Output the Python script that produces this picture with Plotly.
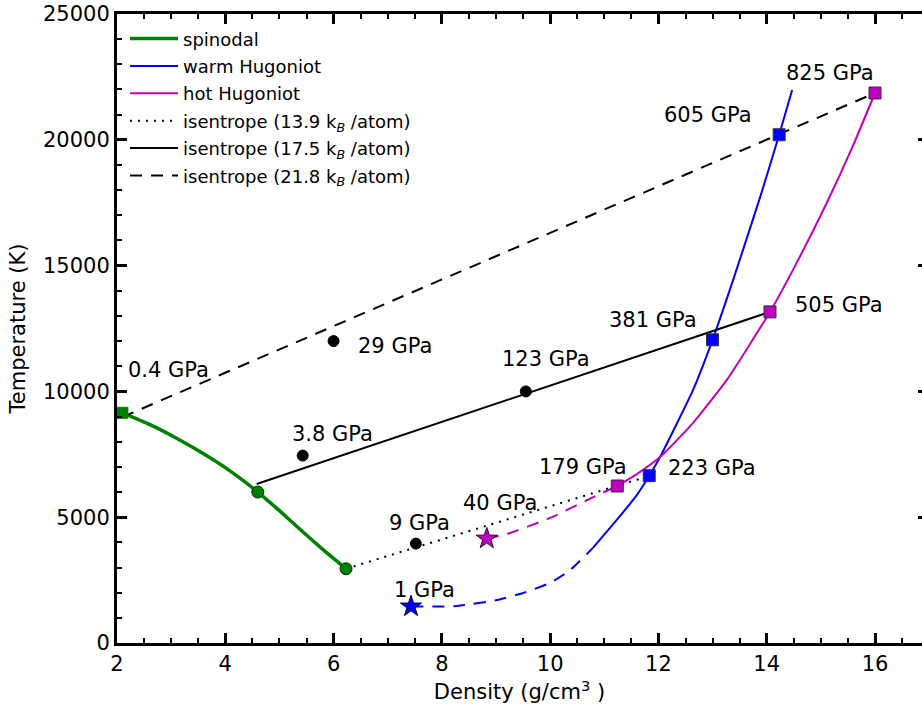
import plotly.graph_objects as go

# ---------------- data ----------------
spin_x = [2.1, 2.6, 3.1, 3.6, 4.1, 4.6, 5.0, 5.4, 5.8, 6.23]
spin_T = [9150, 8690, 8140, 7520, 6820, 6000, 5260, 4480, 3720, 2950]

warm_dash_x = [7.43, 8.28, 9.02, 9.50, 10.0, 10.37, 10.79]
warm_dash_T = [1450, 1470, 1710, 1990, 2390, 2900, 3780]
warm_x = [10.79, 11.23, 11.60, 11.83, 12.03, 12.64, 13.0, 13.38, 13.88, 14.23, 14.47]
warm_T = [3780, 4890, 5880, 6650, 7390, 10060, 12050, 14430, 17730, 20200, 21980]

hot_dash_x = [8.83, 9.2, 10.0, 10.74, 11.24]
hot_dash_T = [4150, 4330, 4970, 5740, 6240]
hot_x = [11.24, 11.6, 12.03, 12.64, 13.27, 14.06, 14.49, 15.11, 15.59, 16.0]
hot_T = [6240, 6710, 7390, 8750, 10480, 13160, 14850, 17500, 19750, 21860]

ise139_x = [6.23, 11.83]
ise139_T = [2950, 6640]
ise175_x = [4.58, 14.06]
ise175_T = [6320, 13160]
ise218_x = [2.1, 16.0]
ise218_T = [8980, 21860]

# markers
green_sq_x, green_sq_T = [2.1], [9150]
green_c_x, green_c_T = [4.6, 6.23], [6000, 2950]
black_x = [6.0, 5.43, 9.55, 7.52]
black_T = [12000, 7450, 10000, 3950]
blue_sq_x = [11.83, 13.0, 14.23]
blue_sq_T = [6650, 12050, 20200]
mag_sq_x = [11.24, 14.06, 16.0]
mag_sq_T = [6240, 13160, 21860]
blue_star_x, blue_star_T = [7.43], [1450]
mag_star_x, mag_star_T = [8.83], [4150]

# pressure labels: (text, x, T, xshift px, yshift px)
labels = [
    ("0.4 GPa", 2.1, 9150, 4, 43),
    ("29 GPa", 6.0, 12000, 22, -5),
    ("3.8 GPa", 5.43, 7450, -13, 22),
    ("123 GPa", 9.55, 10000, -26, 32),
    ("381 GPa", 13.0, 12050, -106, 20),
    ("505 GPa", 14.06, 13160, 23, 7),
    ("605 GPa", 14.23, 20200, -117, 20),
    ("825 GPa", 16.0, 21860, -91, 20),
    ("179 GPa", 11.24, 6240, -80, 19),
    ("223 GPa", 11.83, 6650, 17, 8),
    ("40 GPa", 8.83, 4150, -26, 36),
    ("9 GPa", 7.52, 3950, -29, 21),
    ("1 GPa", 7.43, 1450, -19, 17),
]

GREEN = "#008000"
BLUE = "#0000ff"
MAG = "#bf00bf"
FONT = "DejaVu Sans"
DASH = "12px,9px"
DOT = "2px,6px"

fig = go.Figure()

def line(x, y, color, width, dash="solid", name=None, legend=False, group=None):
    fig.add_trace(go.Scatter(
        x=x, y=y, mode="lines", name=name, showlegend=legend,
        legendgroup=group,
        line=dict(color=color, width=width, dash=dash, shape="spline", smoothing=0.5),
        hoverinfo="skip"))

line(spin_x, spin_T, GREEN, 3.5, name="spinodal", legend=True, group="a")
line(warm_x, warm_T, BLUE, 2, name="warm Hugoniot", legend=True, group="b")
line(warm_dash_x, warm_dash_T, BLUE, 2, dash=DASH)
line(hot_x, hot_T, MAG, 2, name="hot Hugoniot", legend=True, group="c")
line(hot_dash_x, hot_dash_T, MAG, 2, dash=DASH)
line(ise139_x, ise139_T, "black", 2, dash=DOT,
     name="isentrope (13.9 k<sub><i>B</i></sub> /atom)", legend=True, group="d")
line(ise175_x, ise175_T, "black", 2,
     name="isentrope (17.5 k<sub><i>B</i></sub> /atom)", legend=True, group="e")
line(ise218_x, ise218_T, "black", 2, dash=DASH,
     name="isentrope (21.8 k<sub><i>B</i></sub> /atom)", legend=True, group="f")

def markers(x, y, symbol, size, color, edge, ew=1):
    fig.add_trace(go.Scatter(
        x=x, y=y, mode="markers", showlegend=False, hoverinfo="skip",
        marker=dict(symbol=symbol, size=size, color=color,
                    line=dict(color=edge, width=ew))))

markers(green_sq_x, green_sq_T, "square", 11, GREEN, GREEN)
markers(green_c_x, green_c_T, "circle", 12, GREEN, "#003000")
markers(black_x, black_T, "circle", 11, "black", "black")
markers(blue_sq_x, blue_sq_T, "square", 12, BLUE, "#333333")
markers(mag_sq_x, mag_sq_T, "square", 12, MAG, "#333333")
markers(blue_star_x, blue_star_T, "star", 16, BLUE, "#000033")
markers(mag_star_x, mag_star_T, "star", 16, MAG, "#330033")

# dummy trace for the right-hand tick axis
fig.add_trace(go.Scatter(x=[None], y=[None], yaxis="y2", showlegend=False,
                         hoverinfo="skip"))

for txt, x, y, dx, dy in labels:
    fig.add_annotation(x=x, y=y, text=txt, showarrow=False, xanchor="left",
                       yanchor="middle", xshift=dx, yshift=dy,
                       font=dict(family=FONT, size=21, color="black"))

axis_common = dict(
    showgrid=False, zeroline=False, showline=True, linecolor="black",
    linewidth=3, ticks="inside", ticklen=10, tickwidth=3, tickcolor="black",
    tickfont=dict(family=FONT, size=21, color="black"), automargin=False,
    tickformat="d", ticklabeloverflow="allow",
)

fig.update_layout(
    width=922, height=710,
    margin=dict(l=117, r=0, t=14, b=67, autoexpand=False),
    paper_bgcolor="white", plot_bgcolor="white",
    font=dict(family=FONT, color="black"),
    xaxis=dict(
        range=[2, 16.868], tick0=2, dtick=2, mirror="ticks",
        minor=dict(ticks="inside", ticklen=5, tickwidth=2, tickcolor="black",
                   dtick=0.5, tick0=2),
        title=dict(text="Density (g/cm<sup>3</sup> )",
                   font=dict(family=FONT, size=21), standoff=10),
        **axis_common),
    yaxis=dict(
        range=[0, 25000], tick0=0, dtick=5000, mirror=False,
        minor=dict(ticks="inside", ticklen=5, tickwidth=2, tickcolor="black",
                   dtick=1000, tick0=0),
        title=dict(text="Temperature (K)", font=dict(family=FONT, size=21),
                   standoff=12),
        **axis_common),
    yaxis2=dict(
        overlaying="y", side="right", anchor="x", range=[0, 25000],
        tickvals=[5000, 10000, 15000, 20000], ticks="inside", ticklen=4,
        tickwidth=3, tickcolor="black", showticklabels=False, showline=False,
        showgrid=False, zeroline=False, automargin=False),
    legend=dict(x=0.01, y=0.99, xanchor="left", yanchor="top",
                bgcolor="rgba(0,0,0,0)", borderwidth=0,
                font=dict(family=FONT, size=18, color="black"),
                tracegroupgap=1, itemwidth=48),
)

# remove the browser's default 8px body margin so the figure fills the window
fig.write_html("out.html",
               config={"displayModeBar": False},
               post_script="document.body.style.margin='0';"
                           "document.body.style.overflow='hidden';")
